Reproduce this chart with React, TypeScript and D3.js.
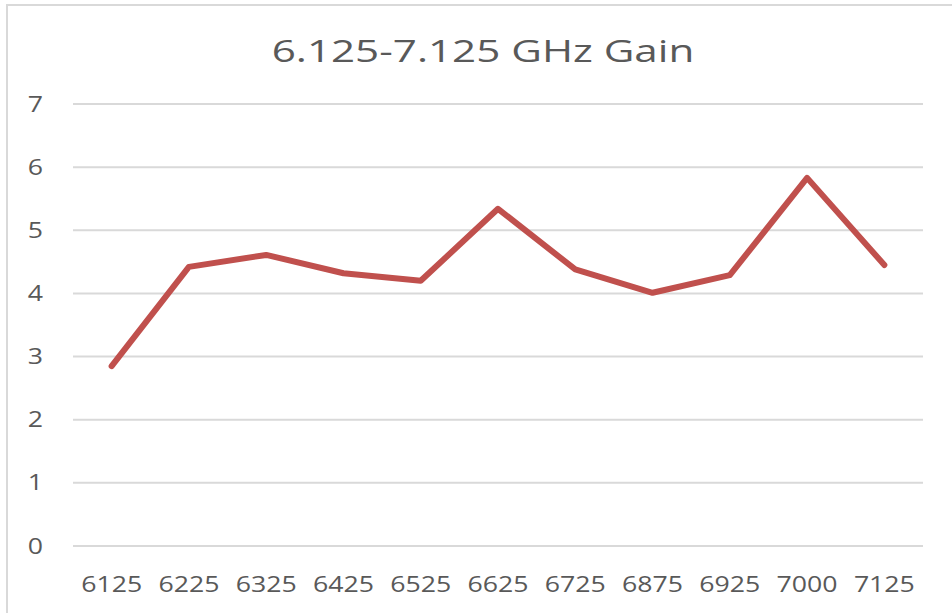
import React, { useEffect, useRef } from "react";
import * as d3 from "d3";

const categories = ["6125", "6225", "6325", "6425", "6525", "6625", "6725", "6875", "6925", "7000", "7125"];
const gainValues = [2.85, 4.42, 4.61, 4.32, 4.2, 5.34, 4.38, 4.01, 4.29, 5.83, 4.45];
const yTicks = [0, 1, 2, 3, 4, 5, 6, 7];
const chartTitle = "6.125-7.125 GHz Gain";

const W = 952;
const H = 613;
const SX = 1.27; // the picture is stretched sideways

const App = () => {
  const ref = useRef<SVGSVGElement>(null);

  useEffect(() => {
    const svg = d3.select(ref.current);
    svg.selectAll("*").remove();

    const margin = { top: 104, right: 29, bottom: 67, left: 73 };

    svg.append("rect").attr("width", W).attr("height", H).attr("fill", "#fff");

    // chart border
    svg.append("rect")
      .attr("x", 7).attr("y", 5)
      .attr("width", W + 20).attr("height", H + 20)
      .attr("fill", "none").attr("stroke", "#d9d9d9").attr("stroke-width", 2);

    const x = d3.scaleBand()
      .domain(categories)
      .range([margin.left, W - margin.right]);

    const y = d3.scaleLinear()
      .domain([0, 7])
      .range([H - margin.bottom, margin.top]);

    const font = "'Open Sans', 'DejaVu Sans', sans-serif";
    const label = (tx: number, ty: number, str: string, size: number, anchor: string, sx = SX) =>
      svg.append("text")
        .attr("transform", `translate(${tx},${ty}) scale(${sx},1)`)
        .attr("text-anchor", anchor)
        .style("font-family", font)
        .style("font-size", size + "px")
        .style("fill", "#595959")
        .text(str);

    // gridlines
    svg.append("g")
      .selectAll("line")
      .data(yTicks)
      .enter()
      .append("line")
      .attr("x1", margin.left)
      .attr("x2", W - margin.right)
      .attr("y1", d => y(d))
      .attr("y2", d => y(d))
      .attr("stroke", "#d9d9d9")
      .attr("stroke-width", 2);

    // y labels
    yTicks.forEach(t => label(43, y(t) + 7.5, String(t), 21, "end"));

    // x labels
    categories.forEach(c => label(x(c)! + x.bandwidth() / 2, 592, c, 21, "middle"));

    // title
    label((273 + 693) / 2, 62, chartTitle, 31, "middle", 1.36);

    // line
    const line = d3.line<number>()
      .x((_, i) => x(categories[i])! + x.bandwidth() / 2)
      .y(d => y(d));

    svg.append("path")
      .datum(gainValues)
      .attr("d", line)
      .attr("fill", "none")
      .attr("stroke", "#c0504d")
      .attr("stroke-width", 6)
      .attr("stroke-linejoin", "round")
      .attr("stroke-linecap", "round");
  }, []);

  return (
    <svg
      ref={ref}
      width={W}
      height={H}
      style={{ position: "absolute", left: 0, top: 0, display: "block" }}
    />
  );
};

export default App;
